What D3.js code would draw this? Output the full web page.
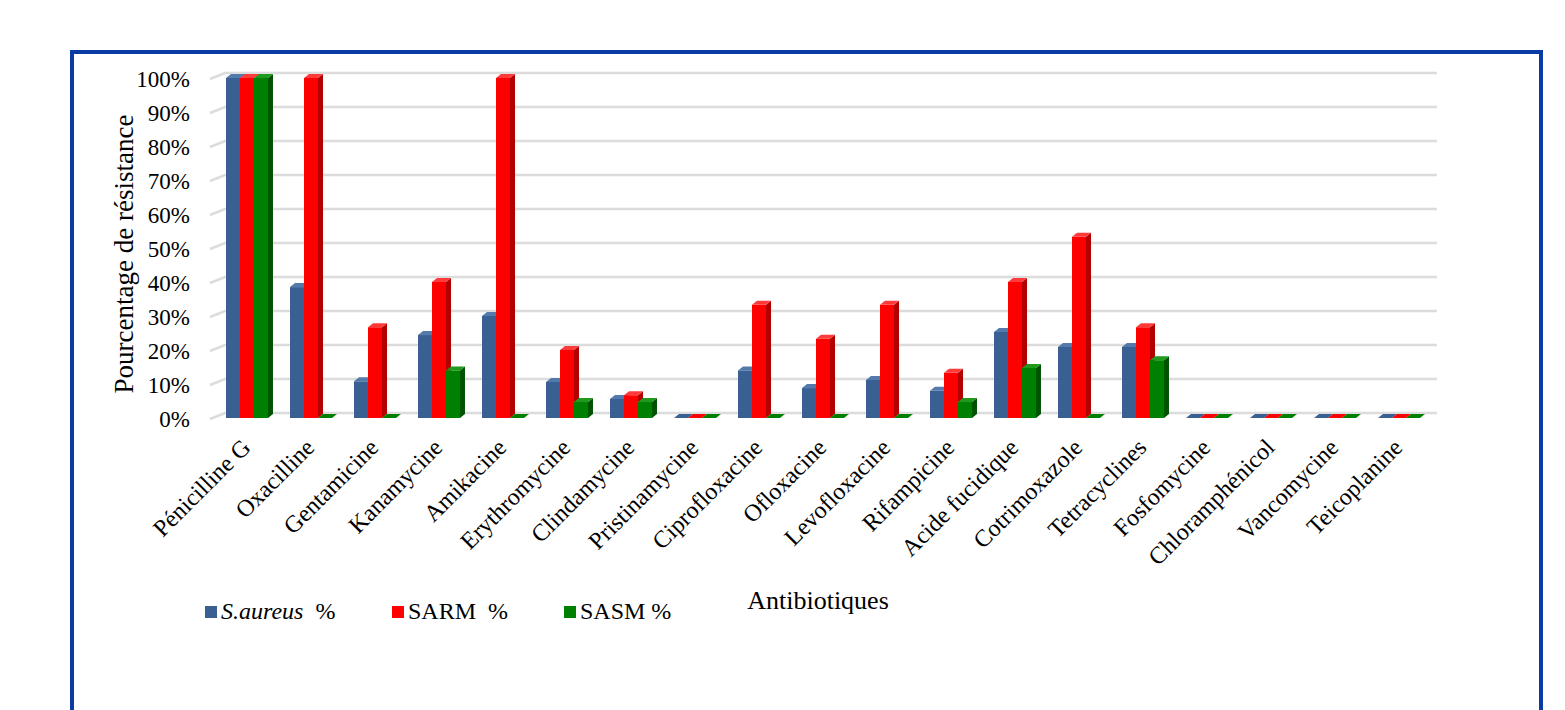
<!DOCTYPE html>
<html>
<head>
<meta charset="utf-8">
<script src="https://cdn.jsdelivr.net/npm/d3@7"></script>
<style>
  html, body { margin: 0; padding: 0; background: #fff; }
  svg { display: block; }
  text { font-family: "Liberation Serif", "Times New Roman", serif; fill: #000; }
</style>
</head>
<body>
<svg id="chart" width="1565" height="710"></svg>
<script>
// Antibiotic resistance percentages per group
const antibiotics = ["Pénicilline G", "Oxacilline", "Gentamicine", "Kanamycine", "Amikacine",
  "Erythromycine", "Clindamycine", "Pristinamycine", "Ciprofloxacine", "Ofloxacine",
  "Levofloxacine", "Rifampicine", "Acide fucidique", "Cotrimoxazole", "Tetracyclines",
  "Fosfomycine", "Chloramphénicol", "Vancomycine", "Teicoplanine"];
const saureus = [100, 38.5, 10.8, 24.4, 30, 10.6, 5.6, 0, 14, 8.8, 11.2, 8, 25.3, 20.9, 20.9, 0, 0, 0, 0];
const sarm    = [100, 100, 26.7, 40, 100, 20, 6.7, 0, 33.3, 23.3, 33.3, 13.3, 40, 53.3, 26.7, 0, 0, 0, 0];
const sasm    = [100, 0, 0, 14, 0, 4.7, 4.7, 0, 0, 0, 0, 4.7, 14.7, 0, 17, 0, 0, 0, 0];
const seriesNames = ["S.aureus", "SARM", "SASM"];
const yTicks = [0, 10, 20, 30, 40, 50, 60, 70, 80, 90, 100];

const series = [
  { key: seriesNames[0], values: saureus, front: "#3a5f92", side: "#27436b", top: "#5479ab" },
  { key: seriesNames[1], values: sarm,    front: "#ff0000", side: "#b30000", top: "#ff3a3a" },
  { key: seriesNames[2], values: sasm,    front: "#008000", side: "#005300", top: "#1f9a1f" }
];

const svg = d3.select("#chart");

// frame around the figure
svg.append("rect")
  .attr("x", 72).attr("y", 52).attr("width", 1469).attr("height", 700)
  .attr("fill", "none").attr("stroke", "#0a3aa3").attr("stroke-width", 4);

const x = d3.scaleBand().domain(antibiotics).range([215, 1431]).paddingInner(0.344).paddingOuter(0.172);
const xs = d3.scaleBand().domain(seriesNames).range([0, x.bandwidth()]);
const y = d3.scaleLinear().domain([0, 100]).range([418, 78]);

// 3D depth offsets
const gdx = 15, gdy = -6;     // floor / back wall
const bdx = 5, bdy = -4;      // bar depth

// gridlines on the back wall with the floor slant at the left
const grid = svg.append("g");
yTicks.forEach(t => {
  const yb = y(t) - 5;
  grid.append("path")
    .attr("d", `M${210},${yb - gdy} L${210 + gdx},${yb} L1437,${yb}`)
    .attr("fill", "none").attr("stroke", "#dcdcdc").attr("stroke-width", 2.6);
});

// y tick labels
svg.append("g").selectAll("text").data(yTicks).join("text")
  .attr("x", 190).attr("y", d => y(d) + 4)
  .attr("text-anchor", "end").attr("dominant-baseline", "middle")
  .style("font-size", "23px")
  .text(d => d + "%");

// bars drawn as prisms: front face, side face, top face
const bars = svg.append("g");
antibiotics.forEach((a, i) => {
  series.forEach(s => {
    const v = s.values[i];
    const x0 = x(a) + xs(s.key);
    const w = xs.bandwidth();
    const yt = y(v), yb = y(0);
    const g = bars.append("g");
    if (v > 0) {
      g.append("rect").attr("x", x0).attr("y", yt).attr("width", w).attr("height", yb - yt)
        .attr("fill", s.front);
      g.append("path")
        .attr("d", `M${x0 + w},${yt} L${x0 + w + bdx},${yt + bdy} L${x0 + w + bdx},${yb + bdy} L${x0 + w},${yb} Z`)
        .attr("fill", s.side);
    }
    g.append("path")
      .attr("d", `M${x0},${yt} L${x0 + bdx},${yt + bdy} L${x0 + w + bdx},${yt + bdy} L${x0 + w},${yt} Z`)
      .attr("fill", v > 0 ? s.top : s.front);
  });
});

// x category labels, rotated
svg.append("g").selectAll("text").data(antibiotics).join("text")
  .attr("transform", d => `translate(${x(d) + x.bandwidth() / 2 + 1},${445}) rotate(-45)`)
  .attr("text-anchor", "end").attr("dominant-baseline", "middle")
  .style("font-size", "24px")
  .text(d => d);

// axis titles
svg.append("text")
  .attr("transform", "translate(127,254) rotate(-90)")
  .attr("text-anchor", "middle").attr("dominant-baseline", "middle")
  .style("font-size", "27px")
  .text("Pourcentage de résistance");

svg.append("text")
  .attr("x", 818).attr("y", 603)
  .attr("text-anchor", "middle").attr("dominant-baseline", "middle")
  .style("font-size", "26px")
  .text("Antibiotiques");

// legend
const legendItems = [
  { x: 205, color: series[0].front, parts: [["S.aureus", true], ["  %", false]] },
  { x: 392, color: series[1].front, parts: [["SARM  %", false]] },
  { x: 564, color: series[2].front, parts: [["SASM %", false]] }
];
const legend = svg.append("g");
legendItems.forEach(it => {
  legend.append("rect").attr("x", it.x).attr("y", 606).attr("width", 12).attr("height", 12).attr("fill", it.color);
  const t = legend.append("text").attr("x", it.x + 16).attr("y", 613)
    .attr("dominant-baseline", "middle").style("font-size", "24px")
    .attr("xml:space", "preserve").style("white-space", "pre");
  it.parts.forEach(p => {
    t.append("tspan").style("font-style", p[1] ? "italic" : "normal").text(p[0]);
  });
});
</script>
</body>
</html>
